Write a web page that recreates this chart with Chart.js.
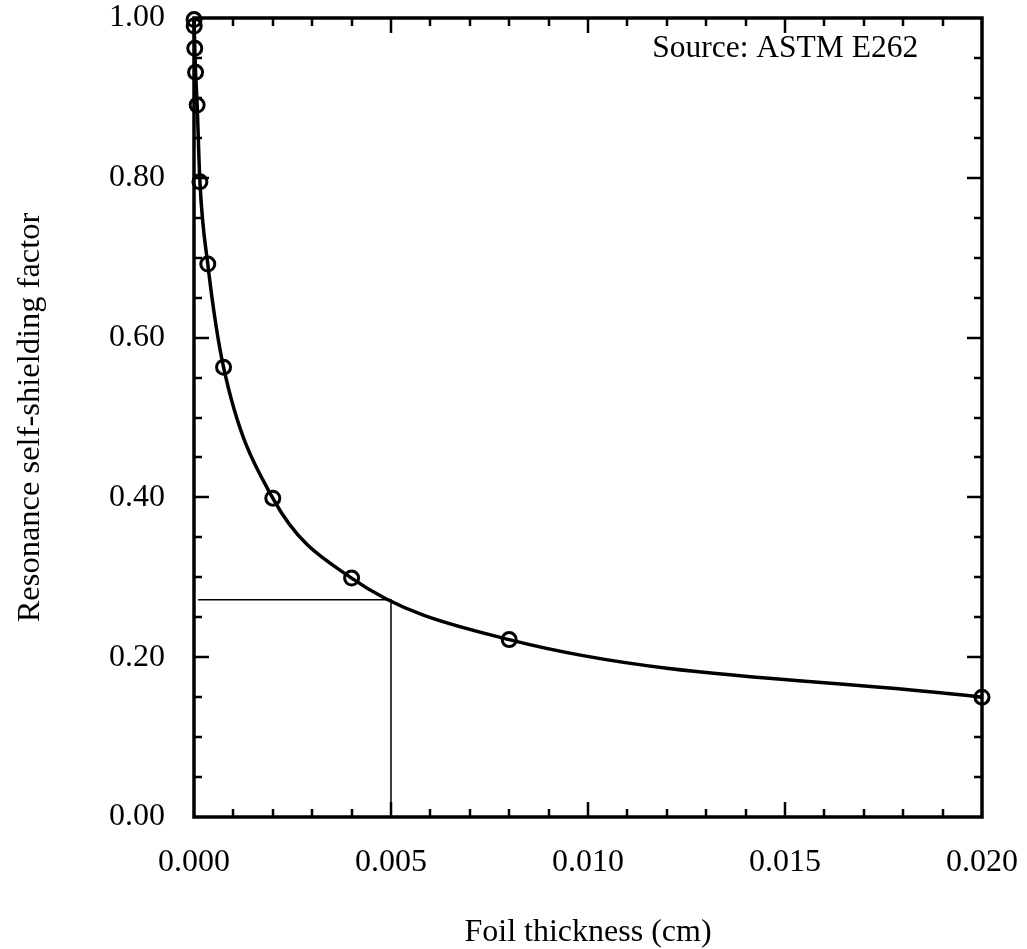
<!DOCTYPE html>
<html lang="en">
<head>
    <meta charset="UTF-8">
    <title>Resonance self-shielding factor</title>
    <script src="https://cdn.jsdelivr.net/npm/chart.js"></script>
    <style>
        html, body { margin: 0; padding: 0; background: #fff; }
        canvas { display: block; }
    </style>
</head>
<body>
    <canvas id="shieldChart" width="1027" height="949"></canvas>

    <script>
        // values
        const foilThickness = [0.000002, 0.000005, 0.00002, 0.00004, 0.00008, 0.00015, 0.00035, 0.00075, 0.002, 0.004, 0.008, 0.020];
        const shieldingFactor = [0.998, 0.99, 0.962, 0.932, 0.891, 0.795, 0.692, 0.563, 0.399, 0.299, 0.222, 0.15];

        // reading guide at 0.005 cm
        const guideX = [0.0001, 0.005, 0.005];
        const guideY = [0.272, 0.272, 0.0];

        const xLabels = [0, 0.005, 0.010, 0.015, 0.020];
        const yLabels = [0, 0.2, 0.4, 0.6, 0.8, 1.0];
        const sourceNote = "Source: ASTM E262";

        const serif = "'Liberation Serif', 'Times New Roman', serif";
        const ctx = document.getElementById("shieldChart").getContext("2d");

        // inward ticks on all four sides plus the frame
        const frameTicks = {
            id: "frameTicks",
            afterDatasetsDraw(chart) {
                const c = chart.ctx, a = chart.chartArea;
                const x = chart.scales.x, y = chart.scales.y;
                c.save();
                c.strokeStyle = "#000";
                c.lineCap = "butt";

                c.lineWidth = 2.5;
                for (let i = 1; i < 20; i++) {
                    const px = Math.round(x.getPixelForValue(i * 0.001));
                    const len = i % 5 === 0 ? 15 : 8;
                    c.beginPath();
                    c.moveTo(px, a.bottom); c.lineTo(px, a.bottom - len);
                    c.moveTo(px, a.top); c.lineTo(px, a.top + len);
                    c.stroke();
                }
                for (let j = 1; j < 20; j++) {
                    const py = Math.round(y.getPixelForValue(j * 0.05));
                    const len = j % 4 === 0 ? 15 : 8;
                    c.beginPath();
                    c.moveTo(a.left, py); c.lineTo(a.left + len, py);
                    c.moveTo(a.right, py); c.lineTo(a.right - len, py);
                    c.stroke();
                }

                c.lineWidth = 3.5;
                c.strokeRect(a.left, a.top, a.right - a.left, a.bottom - a.top);

                c.fillStyle = "#000";
                c.font = "31.5px " + serif;
                c.textAlign = "left";
                c.textBaseline = "middle";
                c.fillText(sourceNote, x.getPixelForValue(0.01163), y.getPixelForValue(0.962));
                c.restore();
            }
        };

        new Chart(ctx, {
            type: "scatter",
            data: {
                datasets: [{
                    label: "Self-shielding",
                    data: foilThickness.map((t, i) => ({ x: t, y: shieldingFactor[i] })),
                    showLine: true,
                    borderColor: "#000",
                    borderWidth: 3.5,
                    cubicInterpolationMode: "monotone",
                    pointRadius: 7,
                    pointBorderWidth: 3,
                    pointBorderColor: "#000",
                    pointBackgroundColor: "rgba(0,0,0,0)",
                    clip: false
                }, {
                    label: "Guide",
                    data: guideX.map((t, i) => ({ x: t, y: guideY[i] })),
                    showLine: true,
                    borderColor: "#000",
                    borderWidth: 1.5,
                    pointRadius: 0,
                    tension: 0
                }]
            },
            options: {
                responsive: false,
                animation: false,
                devicePixelRatio: 1,
                layout: { padding: { left: 0, top: 18, right: 45, bottom: 0 } },
                plugins: { legend: { display: false }, tooltip: { enabled: false } },
                scales: {
                    x: {
                        type: "linear",
                        min: 0,
                        max: 0.02,
                        afterFit: s => {
                            s.height = 132;
                            s.paddingLeft = 0; s.paddingRight = 0;
                        },
                        afterBuildTicks: s => { s.ticks = xLabels.map(v => ({ value: v })); },
                        grid: { display: false, drawTicks: false },
                        border: { display: false },
                        ticks: {
                            padding: 26,
                            color: "#000",
                            font: { family: serif, size: 32 },
                            maxRotation: 0,
                            callback: v => v.toFixed(3)
                        },
                        title: {
                            display: true,
                            text: "Foil thickness (cm)",
                            color: "#000",
                            font: { family: serif, size: 32, lineHeight: 1 },
                            padding: { top: 0, bottom: 0 }
                        }
                    },
                    y: {
                        min: 0,
                        max: 1,
                        afterFit: s => {
                            s.width = 194;
                            s.paddingTop = 0; s.paddingBottom = 0;
                        },
                        afterBuildTicks: s => { s.ticks = yLabels.map(v => ({ value: v })); },
                        grid: { display: false, drawTicks: false },
                        border: { display: false },
                        ticks: {
                            padding: 29,
                            color: "#000",
                            font: { family: serif, size: 32 },
                            callback: v => v.toFixed(2)
                        },
                        title: {
                            display: true,
                            text: "Resonance self-shielding factor",
                            color: "#000",
                            font: { family: serif, size: 32.5, lineHeight: 1.2 },
                            padding: { top: 11, bottom: 0 }
                        }
                    }
                }
            },
            plugins: [frameTicks]
        });
    </script>
</body>
</html>
